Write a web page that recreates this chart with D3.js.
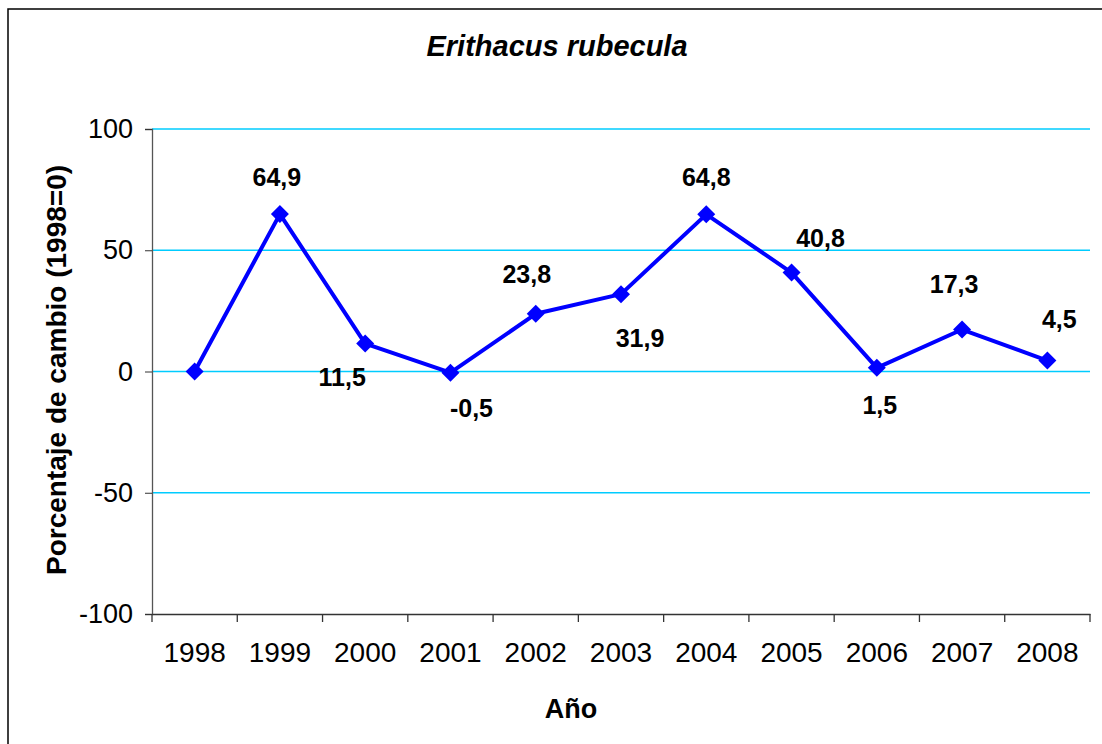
<!DOCTYPE html>
<html>
<head>
<meta charset="utf-8">
<script src="https://cdn.jsdelivr.net/npm/d3@7"></script>
<style>
  body { margin: 0; background: #fff; }
  text { font-family: "Liberation Sans", Arial, sans-serif; }
</style>
</head>
<body>
<div id="chart"></div>
<script>
// data
const years = ["1998", "1999", "2000", "2001", "2002", "2003", "2004", "2005", "2006", "2007", "2008"];
const change = [0, 64.9, 11.5, -0.5, 23.8, 31.9, 64.8, 40.8, 1.5, 17.3, 4.5];
const pointLabels = [null, "64,9", "11,5", "-0,5", "23,8", "31,9", "64,8", "40,8", "1,5", "17,3", "4,5"];
const yTicks = [-100, -50, 0, 50, 100];
const gridValues = [-50, 0, 50, 100];

// where each value label sits relative to its point [dx, baseline dy]
const labelOffsets = [
  [0, 0], [-3, -28], [-23, 42], [21, 44], [-9, -31], [19, 53],
  [0, -28], [29, -26], [3, 46], [-8, -37], [12, -33]
];

const width = 1102, height = 744;
const margin = { top: 129, right: 12, bottom: 130, left: 152 };
const font = "'Liberation Sans', Arial, sans-serif";

const svg = d3.select("#chart")
  .append("svg")
  .attr("width", width)
  .attr("height", height);

// outer frame
svg.append("rect")
  .attr("x", 8).attr("y", 9)
  .attr("width", width + 20).attr("height", height + 20)
  .attr("fill", "none")
  .attr("stroke", "#000")
  .attr("stroke-width", 1.5);

const x = d3.scaleBand()
  .domain(years)
  .range([margin.left, width - margin.right])
  .padding(0);

const y = d3.scaleLinear()
  .domain([-100, 100])
  .range([height - margin.bottom, margin.top]);

const cx = (d) => x(d) + x.bandwidth() / 2;

// gridlines
svg.append("g")
  .selectAll("line")
  .data(gridValues)
  .join("line")
  .attr("x1", margin.left)
  .attr("x2", width - margin.right)
  .attr("y1", (d) => y(d))
  .attr("y2", (d) => y(d))
  .attr("stroke", "#00ccff")
  .attr("stroke-width", 1.3);

// y axis
const yAxis = svg.append("g")
  .attr("transform", `translate(${margin.left},0)`)
  .call(d3.axisLeft(y).tickValues(yTicks).tickSize(7).tickPadding(12).tickFormat((d) => String(d)));
yAxis.select(".domain").attr("stroke", "#555").attr("stroke-width", 1.3);
yAxis.selectAll(".tick line").attr("stroke", "#333");
yAxis.selectAll(".tick text")
  .attr("font-size", 27)
  .attr("fill", "#000")
  .style("font-family", font);

// x axis: labels centered in bands, ticks on band edges
const xAxis = svg.append("g")
  .attr("transform", `translate(0,${y(-100)})`)
  .call(d3.axisBottom(x).tickSize(0).tickPadding(28));
xAxis.select(".domain").attr("stroke", "#333").attr("stroke-width", 1.3);
xAxis.selectAll(".tick text")
  .attr("font-size", 28)
  .attr("fill", "#000")
  .style("font-family", font);

svg.append("g")
  .selectAll("line")
  .data(years.map((d) => x(d)).concat([x.range()[1]]))
  .join("line")
  .attr("x1", (d) => d)
  .attr("x2", (d) => d)
  .attr("y1", y(-100))
  .attr("y2", y(-100) + 8)
  .attr("stroke", "#333")
  .attr("stroke-width", 1.3);

// series line
const line = d3.line()
  .x((d, i) => cx(years[i]))
  .y((d) => y(d));

svg.append("path")
  .datum(change)
  .attr("d", line)
  .attr("fill", "none")
  .attr("stroke", "#0000ff")
  .attr("stroke-width", 4)
  .attr("stroke-linejoin", "round");

// diamond markers
svg.append("g")
  .selectAll("path")
  .data(change)
  .join("path")
  .attr("transform", (d, i) => `translate(${cx(years[i])},${y(d)})`)
  .attr("d", "M0,-9L9,0L0,9L-9,0Z")
  .attr("fill", "#0000ff");

// value labels
svg.append("g")
  .selectAll("text")
  .data(change.map((d, i) => ({ v: d, i: i })).filter((d) => pointLabels[d.i]))
  .join("text")
  .attr("x", (d) => cx(years[d.i]) + labelOffsets[d.i][0])
  .attr("y", (d) => y(d.v) + labelOffsets[d.i][1])
  .attr("text-anchor", "middle")
  .attr("font-size", 25)
  .attr("font-weight", "bold")
  .text((d) => pointLabels[d.i]);

// title
svg.append("text")
  .attr("x", 557)
  .attr("y", 56)
  .attr("text-anchor", "middle")
  .attr("font-size", 29)
  .attr("font-weight", "bold")
  .attr("font-style", "italic")
  .text("Erithacus rubecula");

// axis titles
svg.append("text")
  .attr("x", 571)
  .attr("y", 718)
  .attr("text-anchor", "middle")
  .attr("font-size", 27)
  .attr("font-weight", "bold")
  .text("Año");

svg.append("text")
  .attr("transform", "translate(66,370) rotate(-90)")
  .attr("text-anchor", "middle")
  .attr("font-size", 28)
  .attr("font-weight", "bold")
  .text("Porcentaje de cambio (1998=0)");
</script>
</body>
</html>
